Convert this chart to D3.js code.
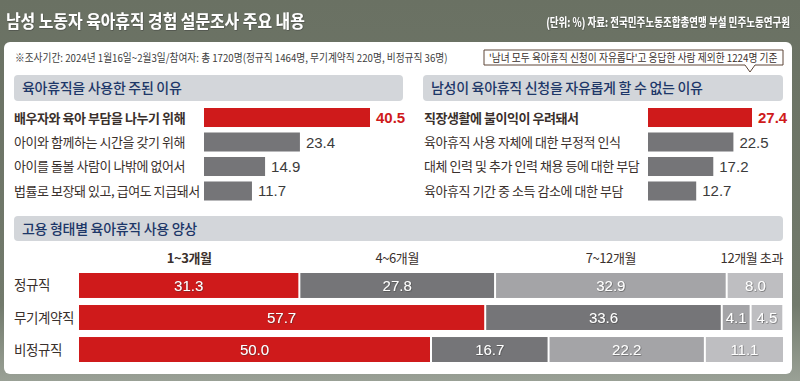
<!DOCTYPE html>
<html><head><meta charset="utf-8">
<script src="https://cdn.jsdelivr.net/npm/d3@7"></script>
<style>
html,body{margin:0;padding:0;background:#6f7668;}
svg{display:block;}
text{font-family:"Liberation Sans","Noto Sans CJK KR",sans-serif;}
.kr{font-family:"Noto Sans CJK KR","Noto Sans",sans-serif;}
</style></head>
<body>
<svg id="chart" width="800" height="381"></svg>
<script>
// ---- data ----
const title = "남성 노동자 육아휴직 경험 설문조사 주요 내용";
const source = "(단위: %) 자료: 전국민주노동조합총연맹 부설 민주노동연구원";
const note = "※조사기간: 2024년 1월16일~2월3일/참여자: 총 1720명(정규직 1464명, 무기계약직 220명, 비정규직 36명)";
const calloutText = "'남녀 모두 육아휴직 신청이 자유롭다'고 응답한 사람 제외한 1224명 기준";
const headers = ["육아휴직을 사용한 주된 이유", "남성이 육아휴직 신청을 자유롭게 할 수 없는 이유", "고용 형태별 육아휴직 사용 양상"];
const reasonsUsed = ["배우자와 육아 부담을 나누기 위해", "아이와 함께하는 시간을 갖기 위해", "아이를 돌볼 사람이 나밖에 없어서", "법률로 보장돼 있고, 급여도 지급돼서"];
const reasonsUsedValues = [40.5, 23.4, 14.9, 11.7];
const reasonsNot = ["직장생활에 불이익이 우려돼서", "육아휴직 사용 자체에 대한 부정적 인식", "대체 인력 및 추가 인력 채용 등에 대한 부담", "육아휴직 기간 중 소득 감소에 대한 부담"];
const reasonsNotValues = [27.4, 22.5, 17.2, 12.7];
const employmentTypes = ["정규직", "무기계약직", "비정규직"];
const durations = ["1~3개월", "4~6개월", "7~12개월", "12개월 초과"];
const regularValues = [31.3, 27.8, 32.9, 8.0];
const indefiniteValues = [57.7, 33.6, 4.1, 4.5];
const nonRegularValues = [50.0, 16.7, 22.2, 11.1];

// ---- styles ----
const RED = "#cf1a1b", DARK = "#757578", MID = "#a4a4a7", LIGHT = "#bebec1";
const segColors = [RED, DARK, MID, LIGHT];
const TXT = "#3a302c", NAVY = "#1d3768", HDR = "#d3d6da";

const svg = d3.select("#chart");
const defs = svg.append("defs");
const bg = defs.append("linearGradient").attr("id","bg").attr("x1",0).attr("y1",0).attr("x2",0).attr("y2",1);
bg.append("stop").attr("offset","0%").attr("stop-color","#6a7163");
bg.append("stop").attr("offset","80%").attr("stop-color","#727a6c");
bg.append("stop").attr("offset","100%").attr("stop-color","#9aa196");
svg.append("rect").attr("width",800).attr("height",381).attr("fill","url(#bg)");
const sh = defs.append("filter").attr("id","ts").attr("x","-5%").attr("y","-20%").attr("width","110%").attr("height","140%");
sh.append("feDropShadow").attr("dx",0.6).attr("dy",0.6).attr("stdDeviation",0.4).attr("flood-color","#333").attr("flood-opacity",0.7);

// fit a text into a given width by scaling it horizontally
function fitText(x, y, width, anchor, str, attrs){
  const g = svg.append("g");
  const t = g.append("text").attr("class","kr").attr("text-anchor",anchor).text(str);
  Object.entries(attrs).forEach(([k,v])=>t.attr(k,v));
  const len = t.node().getComputedTextLength();
  const s = Math.min(1, width/len);
  g.attr("transform",`translate(${x},${y}) scale(${s},1)`);
  return g;
}

// title & source
fitText(6, 28, 299, "start", title, {fill:"#fff","font-size":18,"font-weight":700,filter:"url(#ts)"});
fitText(790, 27, 244, "end", source, {fill:"#fff","font-size":12.5,"font-weight":700,filter:"url(#ts)"});

// panel
svg.append("rect").attr("x",4).attr("y",42).attr("width",788).attr("height",332).attr("rx",6).attr("fill","#fff");

// note
fitText(15, 62, 433, "start", note, {fill:"#3d3d3d","font-size":11});

// headers
const hdrBoxes = [[14,75,389,26],[423,75,360,26],[14,216,769,25]];
hdrBoxes.forEach((b,i)=>{
  svg.append("rect").attr("x",b[0]).attr("y",b[1]).attr("width",b[2]).attr("height",b[3]).attr("rx",4).attr("fill",HDR);
  svg.append("text").attr("class","kr").attr("x",b[0]+8).attr("y",b[1]+b[3]/2+5).attr("fill",NAVY)
    .attr("font-size",14).attr("font-weight",500).attr("letter-spacing",-0.3).text(headers[i]);
});

// callout
svg.append("path").attr("d","M484,50 H783 V65 H755 L750,72 L745,65 H484 Z").attr("fill","#fff")
  .attr("stroke","#5e4638").attr("stroke-width",1);
fitText(489, 61.5, 289, "start", calloutText, {fill:"#3a302c","font-size":11});

// horizontal bar charts
function hbars(labels, values, x0, x1, labelX){
  const x = d3.scaleLinear().domain([0, d3.max(values)]).range([x0, x1]);
  const y = d3.scaleBand().domain(labels).range([108, 200.5]).paddingInner(0.224);
  const g = svg.append("g");
  labels.forEach((l,i)=>{
    const v = values[i];
    g.append("rect").attr("x",x(0)).attr("y",y(l)).attr("width",x(v)-x(0)).attr("height",y.bandwidth())
      .attr("fill", i===0?RED:DARK);
    g.append("text").attr("class","kr").attr("x",labelX).attr("y",y(l)+y.bandwidth()/2+5)
      .attr("fill",TXT).attr("font-size",13).attr("letter-spacing",-0.45)
      .attr("font-weight", i===0?700:400).text(l);
    g.append("text").attr("x",x(v)+6).attr("y",y(l)+y.bandwidth()/2+5.5)
      .attr("fill", i===0?RED:"#3b3b3b").attr("font-size",15).attr("font-weight", i===0?700:400)
      .text(d3.format(".1f")(v));
  });
}
hbars(reasonsUsed, reasonsUsedValues, 204, 370, 14);
hbars(reasonsNot, reasonsNotValues, 648, 752, 424);

// stacked bars
const rows = [regularValues, indefiniteValues, nonRegularValues];
const xs = d3.scaleLinear().domain([0,100]).range([79,783]);
const ys = d3.scaleBand().domain(employmentTypes).range([273,362]).paddingInner(0.22);
const sg = svg.append("g");
rows.forEach((vals,r)=>{
  const t = employmentTypes[r];
  let acc = 0;
  vals.forEach((v,i)=>{
    const a = xs(acc), b = xs(acc+v);
    const left = a + (i>0?1:0), right = b - (i<vals.length-1?1:0);
    sg.append("rect").attr("x",left).attr("y",ys(t)).attr("width",right-left).attr("height",ys.bandwidth())
      .attr("fill",segColors[i]);
    sg.append("text").attr("x",(left+right)/2).attr("y",ys(t)+ys.bandwidth()/2+5.5).attr("text-anchor","middle")
      .attr("fill","#fff").attr("font-size",15).attr("font-weight",400).attr("filter","url(#ts)")
      .text(d3.format(".1f")(v));
    acc += v;
  });
  sg.append("text").attr("class","kr").attr("x",14).attr("y",ys(t)+ys.bandwidth()/2+5)
    .attr("fill",TXT).attr("font-size",13.5).attr("letter-spacing",-0.4).text(t);
});
// column labels centered over first row's segments
let acc0 = 0;
durations.forEach((d,i)=>{
  const a = xs(acc0), b = xs(acc0+regularValues[i]);
  acc0 += regularValues[i];
  const last = i===durations.length-1;
  sg.append("text").attr("class","kr").attr("x", last? b : (a+b)/2).attr("y",263)
    .attr("text-anchor", last? "end":"middle").attr("fill",TXT).attr("font-size",13)
    .attr("letter-spacing",-0.4).attr("font-weight", i===0?700:400).text(d);
});
</script>
</body></html>
